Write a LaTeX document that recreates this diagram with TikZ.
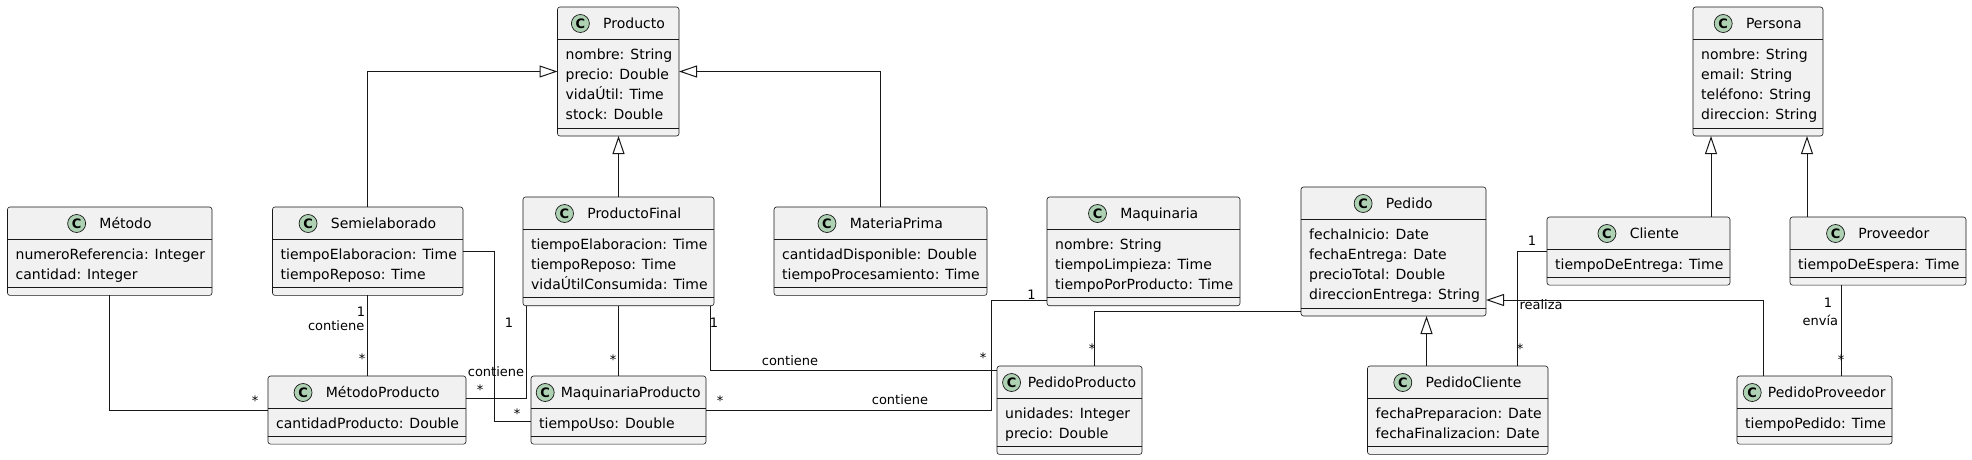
\documentclass[tikz,border=0pt]{standalone}
\usepackage{fontspec}
\setmainfont{DejaVu Sans}
\usetikzlibrary{arrows.meta,calc}
\definecolor{boxfill}{HTML}{F1F1F1}
\definecolor{boxline}{HTML}{181818}
\definecolor{circfill}{HTML}{ADD1B2}
\newcommand\umlfont{\fontsize{14pt}{16pt}\selectfont}
\newcommand\umllabfont{\fontsize{13pt}{15pt}\selectfont}
\tikzset{
  classbox/.style={rectangle, draw=boxline, fill=boxfill, rounded corners=2.5pt, inner sep=0pt, outer sep=0pt, line width=0.6pt},
  sepline/.style={draw=boxline, line width=0.6pt},
  circ/.style={circle, fill=circfill, draw=boxline, line width=0.7pt, minimum size=18pt, inner sep=0pt, outer sep=0pt},
  cfont/.style={inner sep=0pt, font=\bfseries\fontsize{13pt}{13pt}\selectfont},
  conn/.style={draw=boxline, line width=1pt},
  inh/.style={conn, -{Triangle[open, length=18pt, width=12pt]}},
  lab/.style={anchor=base, inner sep=0pt, font=\umllabfont, text=black},
}
% #1 name, #2 x1, #3 x2, #4 top, #5 number of attributes, #6 title, #7 attributes, #8 gap circle-title
\newcommand\umlclass[8]{%
  \pgfmathsetmacro\uW{#3-#2}%
  \pgfmathsetmacro\uH{47.8+20.3*#5}%
  \pgfmathsetmacro\uCx{(#2+#3)/2}%
  \pgfmathsetmacro\uCy{#4+\uH/2}%
  \pgfmathsetmacro\uCc{#4+16.5}%
  \node[classbox, minimum width=\uW pt, minimum height=\uH pt] (#1) at (\uCx,\uCy) {};
  \draw[sepline] (#2, #4+32) -- (#3, #4+32);
  \draw[sepline] (#2, #4+39.8+20.3*#5) -- (#3, #4+39.8+20.3*#5);
  \node[anchor=base, inner sep=0pt, font=\umlfont] (#1-t) at (\uCx, #4+21.5) {\hspace*{\dimexpr 18pt+#8pt\relax}#6};
  \coordinate (#1-cw) at ([xshift=9pt]#1-t.west);
  \node[circ] (#1-c) at (#1-cw |- 0,\uCc) {};
  \node[cfont] (#1-cc) at (#1-c) {C};
  \foreach \a [count=\i] in {#7} {
    \node[anchor=base west, inner sep=0pt, font=\umlfont] (#1-a\i) at (#2+8, #4+52+20.3*\i-20.3) {\a};
  }%
}
\begin{document}
\begin{tikzpicture}[x=1pt, y=-1pt]
\useasboundingbox (0,0) rectangle (1972,459);
\fill[white] (0,0) rectangle (1972,459);

\umlclass{met}{7.5}{212}{207}{2}{Método}{numeroReferencia: Integer,cantidad: Integer}{13.6}
\umlclass{semi}{272.5}{463}{207}{2}{Semielaborado}{tiempoElaboracion: Time,tiempoReposo: Time}{13.6}
\umlclass{metp}{268}{466}{376}{1}{MétodoProducto}{cantidadProducto: Double}{13.6}
\umlclass{prod}{557.5}{679}{7}{4}{Producto}{nombre: String,precio: Double,vidaÚtil: Time,stock: Double}{13.6}
\umlclass{pf}{523}{714}{197}{3}{ProductoFinal}{tiempoElaboracion: Time,tiempoReposo: Time,vidaÚtilConsumida: Time}{13.6}
\umlclass{mp}{774}{987}{207}{2}{MateriaPrima}{cantidadDisponible: Double,tiempoProcesamiento: Time}{13.6}
\umlclass{maqp}{531}{706}{376}{1}{MaquinariaProducto}{tiempoUso: Double}{6.5}
\umlclass{maq}{1047}{1240}{197}{3}{Maquinaria}{nombre: String,tiempoLimpieza: Time,tiempoPorProducto: Time}{13.6}
\umlclass{pp}{997}{1142}{366}{2}{PedidoProducto}{unidades: Integer,precio: Double}{7}
\umlclass{ped}{1301}{1486}{187}{4}{Pedido}{fechaInicio: Date,fechaEntrega: Date,precioTotal: Double,direccionEntrega: String}{13.6}
\umlclass{pc}{1367.5}{1548}{366}{2}{PedidoCliente}{fechaPreparacion: Date,fechaFinalizacion: Date}{13.6}
\umlclass{per}{1693}{1823}{7}{4}{Persona}{nombre: String,email: String,teléfono: String,direccion: String}{13.6}
\umlclass{cli}{1547}{1730}{217}{1}{Cliente}{tiempoDeEntrega: Time}{13.6}
\umlclass{prov}{1790}{1966}{217}{1}{Proveedor}{tiempoDeEspera: Time}{13.6}
\umlclass{ppv}{1737}{1892}{376}{1}{PedidoProveedor}{tiempoPedido: Time}{6.5}

% helper coordinates
\coordinate (c-semimaqp) at ([xshift=-37pt,yshift=23pt]maqp.south west);
\coordinate (e-semimaqp) at ([yshift=23pt]maqp.south west);
\coordinate (s-pfmetp) at ([xshift=3.5pt]pf.south west);
\coordinate (e-pfmetp) at ([yshift=11.5pt]metp.east);
\coordinate (s-pfpp) at ([xshift=-4pt]pf.south east);
\coordinate (e-pfpp) at ([yshift=-4.5pt]pp.north west);
\coordinate (c-maqpmaq) at ([xshift=-56pt,yshift=5pt]maq.south west);
\coordinate (e-maqpmaq) at ([yshift=5pt]maq.south west);
\coordinate (s-pedpp) at ([yshift=4.5pt]ped.south west);
\coordinate (e-pedpp) at ([xshift=97pt]pp.north west);
\coordinate (s-pcped) at ([xshift=59pt]pc.north west);
\coordinate (e-clipc) at ([xshift=149.5pt]pc.north west);
\coordinate (s-ppvped) at ([xshift=26pt]ppv.north west);
\coordinate (e-ppvped) at ([yshift=16pt]ped.south east);
\coordinate (s-clipers) at ([xshift=-19pt]cli.north east);
\coordinate (s-provpers) at ([xshift=17pt]prov.north west);
\coordinate (s-provppv) at ([xshift=51pt]prov.south west);

% inheritance
\draw[inh] (semi.north) |- (prod.west);
\draw[inh] (mp.north) |- (prod.east);
\draw[inh] (pf.north) -- (pf.north |- prod.south);
\draw[inh] (s-pcped) -- (s-pcped |- ped.south);
\draw[inh] (s-ppvped) |- (e-ppvped);
\draw[inh] (s-clipers) -- (s-clipers |- per.south);
\draw[inh] (s-provpers) -- (s-provpers |- per.south);

% associations
\draw[conn] (met.south) |- (metp.west);
\draw[conn] (semi.south) -- (semi.south |- metp.north);
\draw[conn] (semi.east) -| (c-semimaqp) -- (e-semimaqp);
\draw[conn] (s-pfmetp) |- (e-pfmetp);
\draw[conn] (pf.south) -- (pf.south |- maqp.north);
\draw[conn] (s-pfpp) |- (e-pfpp);
\draw[conn] (maqp.east) -| (c-maqpmaq) -- (e-maqpmaq);
\draw[conn] (s-pedpp) -| (e-pedpp);
\draw[conn] (cli.west) -| (e-clipc);
\draw[conn] (s-provppv) -- (s-provppv |- ppv.north);

% labels
\node[lab] (l1) at (361,316.5) {1};
\node[lab, anchor=base east] (l2) at (364.5,330) {contiene};
\node[lab] (l3) at (362,363.5) {*};
\node[lab] (l4) at (255,405.5) {*};
\node[lab] (l5) at (517,418.5) {*};
\node[lab] (l6) at (509,327) {1};
\node[lab] (l7) at (496,376.5) {contiene};
\node[lab] (l8) at (480,394.5) {*};
\node[lab] (l9) at (613,364.5) {*};
\node[lab] (l10) at (714,327.5) {1};
\node[lab] (l11) at (790,365.5) {contiene};
\node[lab] (l12) at (983,362.5) {*};
\node[lab] (l13) at (720,405.5) {*};
\node[lab] (l14) at (900,404) {contiene};
\node[lab] (l15) at (1031.5,299) {1};
\node[lab] (l16) at (1092,353.5) {*};
\node[lab] (l17) at (1532,245) {1};
\node[lab] (l18) at (1541,309) {realiza};
\node[lab] (l19) at (1520,353) {*};
\node[lab] (l20) at (1828,307.3) {1};
\node[lab, anchor=base east] (l21) at (1838.3,325) {envía};
\node[lab] (l22) at (1841,364) {*};
\end{tikzpicture}
\end{document}
